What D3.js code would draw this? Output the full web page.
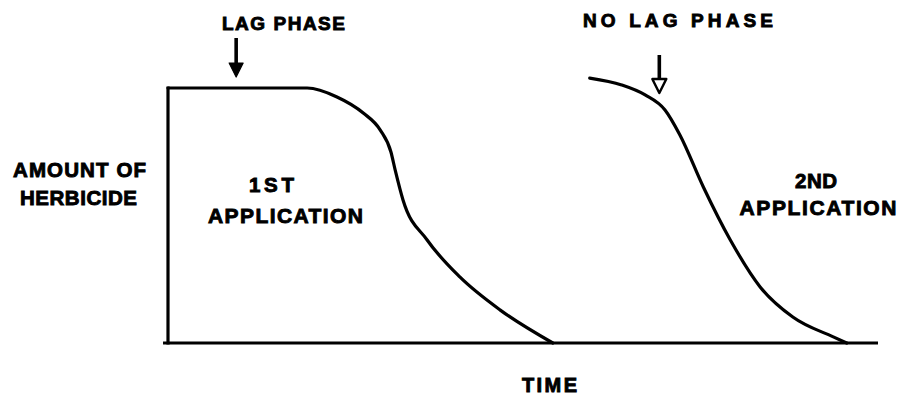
<!DOCTYPE html>
<html>
<head>
<meta charset="utf-8">
<script src="https://cdn.jsdelivr.net/npm/d3@7"></script>
<style>
  html, body { margin: 0; padding: 0; background: #fff; }
  svg { display: block; }
  text { font-family: "Liberation Sans", Arial, sans-serif; font-weight: bold; fill: #000; stroke: #000; stroke-width: 0.9px; }
</style>
</head>
<body>
<svg id="chart" width="898" height="395"></svg>
<script>
// Time axis runs 0..100, amount axis 0..100 (full dose = 100)
const firstTime   = [0, 19.6, 23.8, 27.5, 29.9, 31.4, 32.0, 33.1, 36.5, 41.1, 46.8, 54.2];
const firstAmount = [100, 100, 96.5, 90.2, 83.5, 74.9, 67.8, 56.1, 40.4, 25.9, 12.9, 0];

const secondTime   = [59.4, 63.9, 67.2, 70.0, 72.1, 75.4, 79.2, 83.4, 88.0, 93.7, 95.6];
const secondAmount = [103.9, 101.2, 97.3, 91.4, 81.6, 61.2, 40.4, 22.0, 10.2, 2.4, 0];

const arrowTimes = [9.6, 69.2];          // lag phase / no lag phase markers
const axisLabels = ["TIME", ["AMOUNT OF", "HERBICIDE"]];
const curveLabels = [["1ST", "APPLICATION"], ["2ND", "APPLICATION"]];
const markerLabels = ["LAG PHASE", "NO LAG PHASE"];

const svg = d3.select("#chart");
const x = d3.scaleLinear().domain([0, 100]).range([168, 878]);
const y = d3.scaleLinear().domain([0, 100]).range([343, 88]);

const line = d3.line()
  .x(d => x(d[0]))
  .y(d => y(d[1]))
  .curve(d3.curveMonotoneX);

const ink = { stroke: "#000", width: 3.2 };

// baseline (time axis)
svg.append("line")
  .attr("x1", x(-0.7)).attr("x2", x(100))
  .attr("y1", y(0)).attr("y2", y(0))
  .attr("stroke", ink.stroke).attr("stroke-width", ink.width);

// first application: instantaneous rise, then decay
svg.append("line")
  .attr("x1", x(0)).attr("x2", x(0))
  .attr("y1", y(0)).attr("y2", y(firstAmount[0]))
  .attr("stroke", ink.stroke).attr("stroke-width", ink.width)
  .attr("stroke-linecap", "square");

svg.append("path")
  .datum(d3.zip(firstTime, firstAmount))
  .attr("d", line)
  .attr("fill", "none")
  .attr("stroke", ink.stroke).attr("stroke-width", ink.width)
  .attr("stroke-linejoin", "round").attr("stroke-linecap", "round");

// second application
svg.append("path")
  .datum(d3.zip(secondTime, secondAmount))
  .attr("d", line)
  .attr("fill", "none")
  .attr("stroke", ink.stroke).attr("stroke-width", ink.width)
  .attr("stroke-linejoin", "round").attr("stroke-linecap", "round");

// marker arrows
function arrow(cx, top, tip, hollow) {
  const headLen = 14, half = 7;
  const g = svg.append("g");
  g.append("line")
    .attr("x1", cx).attr("x2", cx)
    .attr("y1", top).attr("y2", tip - headLen + (hollow ? 1 : 2))
    .attr("stroke", "#000").attr("stroke-width", 3.6);
  g.append("path")
    .attr("d", `M${cx - half},${tip - headLen} L${cx + half},${tip - headLen} L${cx},${tip} Z`)
    .attr("fill", hollow ? "#fff" : "#000")
    .attr("stroke", "#000").attr("stroke-width", hollow ? 2.4 : 1.2)
    .attr("stroke-linejoin", "round");
}
arrow(x(arrowTimes[0]), 38, 77, false);
arrow(x(arrowTimes[1]), 55, 93, true);

// labels
function label(txt, cx, base, size, width) {
  svg.append("text")
    .attr("x", cx - width / 2).attr("y", base)
    .attr("font-size", size)
    .attr("textLength", width)
    .attr("lengthAdjust", "spacing")
    .text(txt);
}
label(markerLabels[0], 283.5, 30, 19, 123);
label(markerLabels[1], 678, 27, 19, 190);

label(axisLabels[1][0], 79.5, 177, 20.5, 133);
label(axisLabels[1][1], 78.5, 205, 20.5, 117);
label(axisLabels[0], 549.5, 392, 20, 55);

label(curveLabels[0][0], 271.5, 192, 20.5, 45);
label(curveLabels[0][1], 285.5, 223, 21, 155);
label(curveLabels[1][0], 816, 188, 20.5, 42);
label(curveLabels[1][1], 818, 215, 21, 157);
</script>
</body>
</html>
